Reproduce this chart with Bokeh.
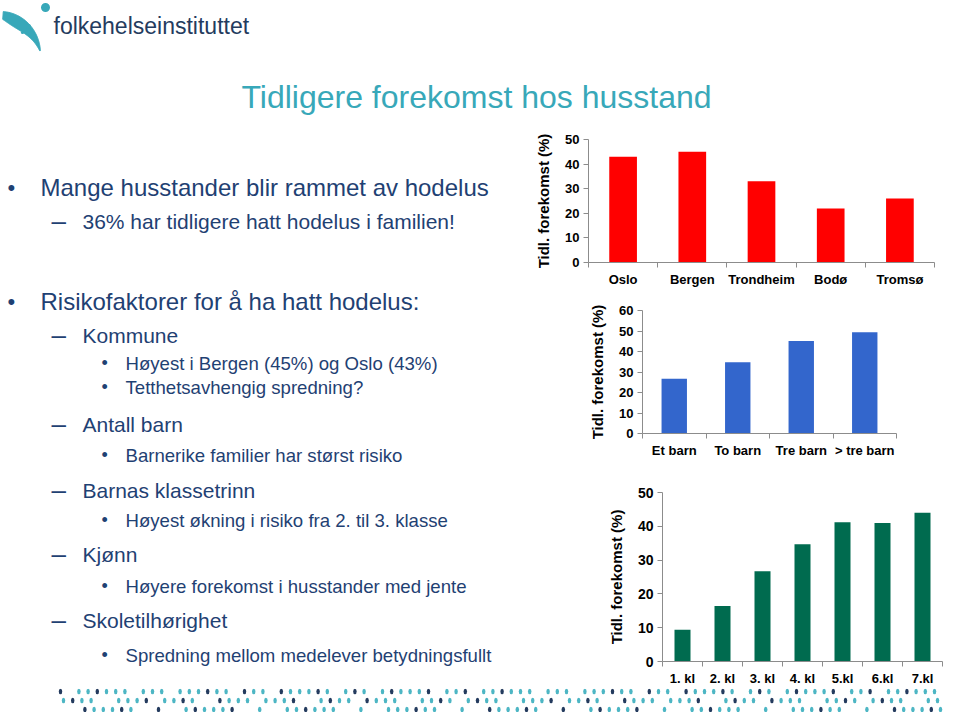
import numpy as np
from bokeh.plotting import figure
from bokeh.layouts import column, row
from bokeh.models import Range1d, FixedTicker, Spacer
from bokeh.core.properties import value
from bokeh.embed import file_html
from bokeh.resources import INLINE

FONT = "Liberation Sans"
NAVY = "#1F4173"
TEAL = "#38A8B9"
LOGO_NAVY = "#243B5E"
AXIS_GREY = "#8C8C8C"

# ---------------- data ----------------
kommune = ["Oslo", "Bergen", "Trondheim", "Bodø", "Tromsø"]
kommune_pct = [43, 45, 33, 22, 26]
kommune_ticks = [0, 10, 20, 30, 40, 50]

barn = ["Et barn", "To barn", "Tre barn", "> tre barn"]
barn_pct = [26.7, 34.7, 45.1, 49.4]
barn_ticks = [0, 10, 20, 30, 40, 50, 60]

klasse = ["1. kl", "2. kl", "3. kl", "4. kl", "5.kl", "6.kl", "7.kl"]
klasse_pct = [9.4, 16.4, 26.7, 34.7, 41.2, 41.0, 44.0]
klasse_ticks = [0, 10, 20, 30, 40, 50]

y_label = "Tidl. forekomst (%)"
title = "Tidligere forekomst hos husstand"
logo_text = "folkehelseinstituttet"

level1 = ["Mange husstander blir rammet av hodelus",
          "Risikofaktorer for å ha hatt hodelus:"]
level1_y = [194.5, 308.5]
level2 = ["36% har tidligere hatt hodelus i familien!", "Kommune", "Antall barn",
          "Barnas klassetrinn", "Kjønn", "Skoletilhørighet"]
level2_y = [228.5, 342.5, 431.5, 497.5, 561.5, 627.5]
level3 = ["Høyest i Bergen (45%) og Oslo (43%)", "Tetthetsavhengig spredning?",
          "Barnerike familier har størst risiko", "Høyest økning i risiko fra 2. til 3. klasse",
          "Høyere forekomst i husstander med jente", "Spredning mellom medelever betydningsfullt"]
level3_y = [370.7, 394.7, 462.7, 527.7, 593.7, 662.7]

W = 958
HEADER_H = 125
BODY_H = 563
FOOTER_H = 24
LEFT_W = 521
RIGHT_W = W - LEFT_W
TXT_DY = 8  # text glyphs render this much below the requested baseline


def blank(width, height):
    p = figure(width=width, height=height, x_range=Range1d(0, width), y_range=Range1d(height, 0),
               x_axis_type=None, y_axis_type=None, output_backend="svg", toolbar_location=None,
               min_border=0, outline_line_color=None)
    p.xgrid.visible = False
    p.ygrid.visible = False
    return p


# ---------------- header ----------------
hdr = blank(W, HEADER_H)
lx, ly = 0, 1
cx, cy, rx, ry = 0, 52, 40, 42
th = np.linspace(86, 4, 60)
t = (86 - th) / 82
thick = 11 * np.sin(np.pi * (0.15 + 0.85 * t) ** 0.8) + 0.8
rad = np.radians(th)
ox = cx + rx * np.cos(rad)
oy = cy - ry * np.sin(rad)
ix = cx + (rx - thick) * np.cos(rad)
iy = cy - (ry - thick) * np.sin(rad)
px = np.concatenate([ox, ix[::-1]]) + lx
py = np.concatenate([oy, iy[::-1]]) + ly
hdr.patch(px, py, color=TEAL, line_color=TEAL)
hdr.circle(x=[35 + lx], y=[17 + ly], radius=5.0, color="white", line_color="white")
hdr.circle(x=[45 + lx, 28 + lx, 22 + lx], y=[6 + ly, 25 + ly, 31 + ly], radius=[4.5, 2.4, 1.6],
           color=TEAL, line_color=None)
hdr.text(x=[53 + lx], y=[33 - TXT_DY], text=[logo_text], text_font=value(FONT), text_font_size="23px",
         text_color=LOGO_NAVY, text_baseline="alphabetic", text_align="left")
hdr.text(x=[476], y=[104 - TXT_DY], text=[title], text_font=value(FONT), text_font_size="32px",
         text_color=TEAL, text_baseline="alphabetic", text_align="center")

# ---------------- left text panel ----------------
txt = blank(LEFT_W, BODY_H)
oy_ = HEADER_H + TXT_DY


def put(xs, ys, texts, size, color=NAVY):
    txt.text(x=xs, y=ys, text=texts, text_font=value(FONT), text_font_size=size,
             text_color=color, text_baseline="alphabetic", text_align="left")


put([7] * len(level1), [y - oy_ for y in level1_y], ["•"] * len(level1), "22px")
put([40] * len(level1), [y - oy_ for y in level1_y], level1, "24px")
put([51] * len(level2), [y - oy_ for y in level2_y], ["–"] * len(level2), "26px")
put([82] * len(level2), [y - oy_ for y in level2_y], level2, "21px")
put([101] * len(level3), [y - oy_ for y in level3_y], ["•"] * len(level3), "18px")
put([125] * len(level3), [y - oy_ for y in level3_y], level3, "18.6px")


# ---------------- charts ----------------
LEFT_B = 67


def bar_chart(cats, vals, color, ymax, yticks, width, height, right, top, bottom,
              tick_size, cat_size):
    n = len(cats)
    p = figure(width=width, height=height, x_range=Range1d(0, n), y_range=Range1d(0, ymax),
               output_backend="svg", toolbar_location=None,
               min_border_left=LEFT_B, min_border_right=right,
               min_border_top=top, min_border_bottom=bottom)
    xs = [i + 0.5 for i in range(n)]
    p.vbar(x=xs, top=vals, width=0.4, color=color, line_color=None)
    p.xgrid.visible = False
    p.ygrid.visible = False
    p.outline_line_color = None

    xa = p.xaxis[0]
    xa.ticker = FixedTicker(ticks=xs, minor_ticks=list(range(n + 1)))
    xa.major_label_overrides = {x: c for x, c in zip(xs, cats)}
    xa.major_tick_out = 0
    xa.major_tick_in = 0
    xa.minor_tick_out = 5
    xa.minor_tick_in = 0
    xa.minor_tick_line_color = AXIS_GREY
    xa.axis_line_color = AXIS_GREY
    xa.major_label_standoff = 4
    xa.major_label_text_font = FONT
    xa.major_label_text_font_style = "bold"
    xa.major_label_text_font_size = cat_size
    xa.major_label_text_color = "black"

    ya = p.yaxis[0]
    ya.ticker = FixedTicker(ticks=yticks, minor_ticks=[])
    ya.major_tick_out = 5
    ya.major_tick_in = 0
    ya.minor_tick_out = 0
    ya.minor_tick_in = 0
    ya.major_tick_line_color = AXIS_GREY
    ya.axis_line_color = AXIS_GREY
    ya.major_label_standoff = 4
    ya.major_label_text_font = FONT
    ya.major_label_text_font_style = "bold"
    ya.major_label_text_font_size = tick_size
    ya.major_label_text_color = "black"
    ya.axis_label = y_label
    ya.axis_label_text_font = FONT
    ya.axis_label_text_font_style = "bold"
    ya.axis_label_text_font_size = "15px"
    ya.axis_label_text_color = "black"
    ya.axis_label_standoff = 10
    return p


# frame left edges (reference px): 588, 642, 662 ; right panel starts at ref 521
s2 = 642 - LEFT_W - LEFT_B
s3 = 662 - LEFT_W - LEFT_B
c1 = bar_chart(kommune, kommune_pct, "#FF0000", 50, kommune_ticks, RIGHT_W, 165,
               right=RIGHT_W - (934 - LEFT_W), top=14, bottom=28, tick_size="13px", cat_size="13px")
c2 = bar_chart(barn, barn_pct, "#3366CC", 60, barn_ticks, RIGHT_W - s2, 175,
               right=RIGHT_W - (896 - LEFT_W), top=20, bottom=32, tick_size="13px", cat_size="13px")
c3 = bar_chart(klasse, klasse_pct, "#006B4F", 50, klasse_ticks, RIGHT_W - s3, 223,
               right=RIGHT_W - (942 - LEFT_W), top=27, bottom=27, tick_size="14px", cat_size="13px")

right_col = column(row(c1), row(Spacer(width=s2, height=175), c2),
                   row(Spacer(width=s3, height=223), c3))

# ---------------- footer dot band ----------------
ftr = blank(W, FOOTER_H)
fx, fy, fc = [], [], []
for rr, yy in enumerate([3, 12, 21]):
    for i in range(96):
        if (i * i * 7 + i * 3 + rr * 5) % 11 < 7:
            fx.append(60 + rr * 3 + 9.2 * i)
            fy.append(yy)
            fc.append(LOGO_NAVY if (i * 5 + rr * 3) % 4 == 0 else "#4DB6C4")
ftr.ellipse(x=fx, y=fy, width=3.5, height=5.5, color=fc, line_color=None)

layout = column(hdr, row(txt, right_col), ftr)

open("out.html", "w").write(file_html(layout, INLINE))
